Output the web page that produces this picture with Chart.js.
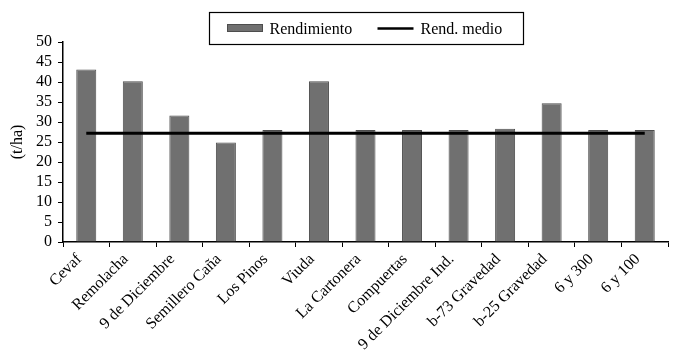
<!DOCTYPE html>
<html>
<head>
<meta charset="utf-8">
<script src="https://cdn.jsdelivr.net/npm/chart.js@4/dist/chart.umd.min.js"></script>
<style>
html,body{margin:0;padding:0;background:#fff;}
#wrap{width:683px;height:350px;position:relative;}
</style>
</head>
<body>
<div id="wrap"><canvas id="c" width="683" height="350"></canvas></div>
<script>
const categories = ["Cevaf","Remolacha","9 de Diciembre","Semillero Caña","Los Pinos","Viuda","La Cartonera","Compuertas","9 de Diciembre Ind.","b-73 Gravedad","b-25 Gravedad","6 y 300","6 y 100"];
const rendimiento = [43.1, 40.2, 31.6, 24.9, 28.0, 40.2, 28.0, 28.0, 28.0, 28.3, 34.7, 28.0, 28.0];
const rendMedio = [27.2, 27.2, 27.2, 27.2, 27.2, 27.2, 27.2, 27.2, 27.2, 27.2, 27.2, 27.2, 27.2];
const yTicks = [0,5,10,15,20,25,30,35,40,45,50];
const seriesNames = ["Rendimiento","Rend. medio"];

const FONT = "'Liberation Serif', 'Times New Roman', serif";
const BAR_FILL = "#707070";
const BAR_EDGE = "#4d4d4d";

const legendBox = {
  id: 'legendBox',
  afterDraw(chart) {
    const ctx = chart.ctx;
    const ca = chart.chartArea;
    const cx = (ca.left + ca.right) / 2;
    const w = 314, h = 32;
    const left = Math.round(cx - w / 2) + 0.5, top = 12.5;
    ctx.save();
    ctx.strokeStyle = '#000';
    ctx.lineWidth = 1.2;
    ctx.strokeRect(left, top, w, h);
    const my = top + h / 2;
    ctx.fillStyle = BAR_FILL;
    ctx.fillRect(left + 18, my - 4, 35, 7);
    ctx.strokeStyle = BAR_EDGE;
    ctx.lineWidth = 1;
    ctx.strokeRect(left + 18, my - 4, 35, 7);
    ctx.fillStyle = '#000';
    ctx.font = "16px " + FONT;
    ctx.textBaseline = 'middle';
    ctx.textAlign = 'left';
    ctx.fillText(seriesNames[0], left + 60, my + 1);
    ctx.strokeStyle = '#000';
    ctx.lineWidth = 2.5;
    ctx.beginPath();
    ctx.moveTo(left + 168, my);
    ctx.lineTo(left + 204, my);
    ctx.stroke();
    ctx.fillText(seriesNames[1], left + 211, my + 1);
    ctx.restore();
  }
};

new Chart(document.getElementById('c'), {
  type: 'bar',
  data: {
    labels: categories,
    datasets: [
      {
        type: 'line',
        label: seriesNames[1],
        data: rendMedio,
        borderColor: '#000',
        borderWidth: 3,
        pointRadius: 0,
        tension: 0,
        fill: false,
        order: 0
      },
      {
        type: 'bar',
        label: seriesNames[0],
        data: rendimiento,
        backgroundColor: BAR_FILL,
        borderColor: BAR_EDGE,
        borderWidth: 1,
        categoryPercentage: 1,
        barPercentage: 0.43,
        order: 1
      }
    ]
  },
  options: {
    responsive: false,
    animation: false,
    layout: { padding: { top: 42, right: 15, left: 0, bottom: 0 } },
    plugins: {
      legend: { display: false },
      tooltip: { enabled: false }
    },
    scales: {
      x: {
        offset: true,
        grid: {
          offset: true,
          drawOnChartArea: false,
          drawTicks: true,
          tickLength: 5,
          color: '#000'
        },
        border: { color: '#000', width: 1.5 },
        ticks: {
          color: '#000',
          font: { family: FONT, size: 16 },
          minRotation: 45,
          maxRotation: 45,
          autoSkip: false,
          padding: 3,
          labelOffset: -7
        },
        afterFit(scale) { scale.height = 108; }
      },
      y: {
        min: 0,
        max: 50,
        afterBuildTicks(scale) { scale.ticks = yTicks.map(v => ({ value: v })); },
        grid: {
          drawOnChartArea: false,
          drawTicks: true,
          tickLength: 5,
          color: '#000'
        },
        border: { color: '#000', width: 1.5 },
        ticks: {
          color: '#000',
          font: { family: FONT, size: 16 },
          padding: 6,
          autoSkip: false,
          stepSize: 5
        },
        title: {
          display: true,
          text: '(t/ha)',
          color: '#000',
          font: { family: FONT, size: 16 },
          padding: { top: 8, bottom: 4 }
        },
        afterFit(scale) { scale.width = 63; }
      }
    }
  },
  plugins: [legendBox]
});
</script>
</body>
</html>
